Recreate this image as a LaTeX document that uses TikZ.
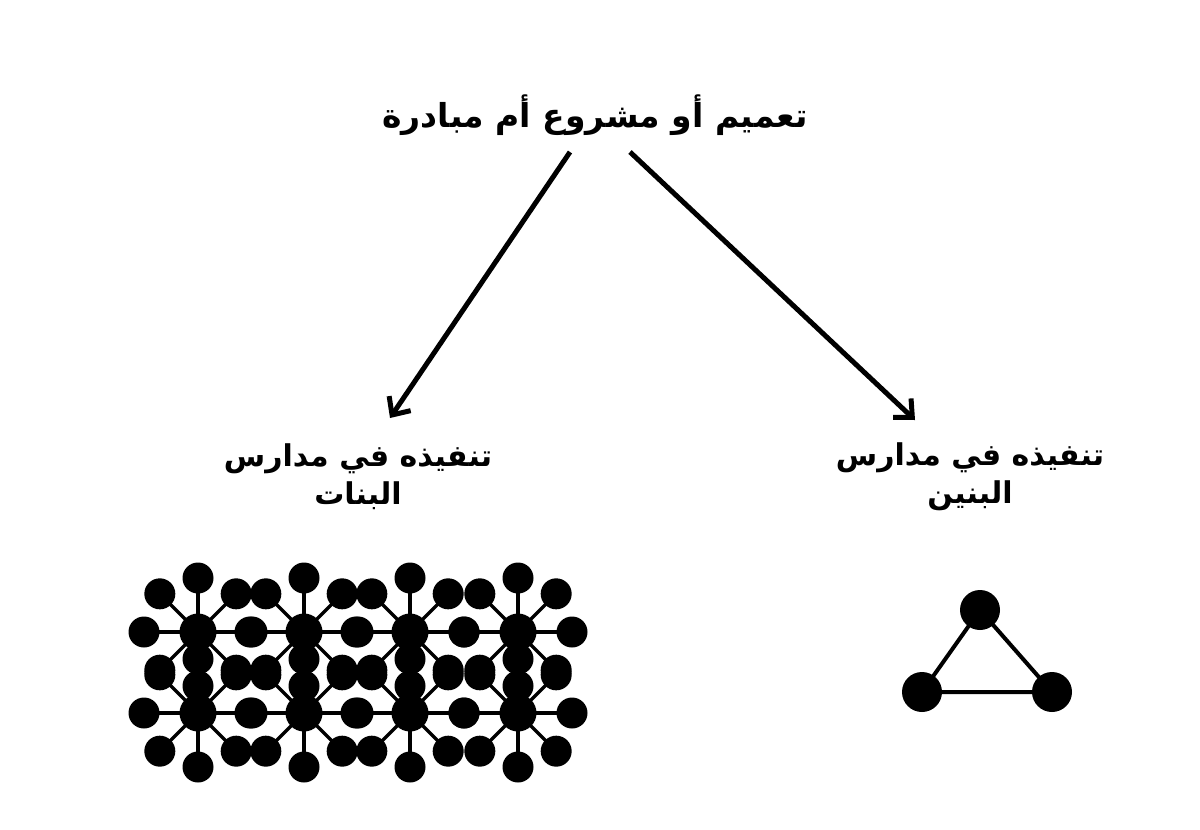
\documentclass[tikz,border=0pt]{standalone}
\usepackage{fontspec}
\usetikzlibrary{arrows.meta,calc}
\TeXXeTstate=1
\newfontfamily\arabicfont[Script=Arabic]{DejaVu Sans}
\begin{document}
\begin{tikzpicture}[x=1pt,y=-1pt,
  lbl/.style={font=\arabicfont\bfseries\fontsize{30}{38}\selectfont,align=center},
  arr/.style={line width=5pt,-{Straight Barb[length=14pt,width=26pt,line width=5pt]}},
  hub/.style={circle,fill=black,minimum size=37pt,inner sep=0pt},
  dot/.style={circle,fill=black,minimum size=31pt,inner sep=0pt},
  spoke/.style={line width=3.5pt},
  tri/.style={line width=4pt}]
\useasboundingbox (0,0) rectangle (1200,830);
\node[lbl,font=\arabicfont\bfseries\fontsize{33}{40}\selectfont] (title) at (595,115) {\beginR تعميم أو مشروع أم مبادرة\endR};
\node[lbl] (girls) at (358,477) {\beginR تنفيذه في مدارس\endR\\\beginR البنات\endR};
\node[lbl] (boys) at (970,477) {\beginR تنفيذه في مدارس\endR\\\beginR البنين\endR};
\coordinate (a1) at (570,152); \coordinate (a2) at (390,418);
\coordinate (b1) at (630,152); \coordinate (b2) at (915,420);
\draw[arr] (a1) -- (a2);
\draw[arr] (b1) -- (b2);
\foreach \x [count=\i] in {198,304,410,518}{
  \foreach \y [count=\j] in {632,713}{
    \node[hub] (h\i\j) at (\x,\y) {};
    \foreach \a [count=\k] in {0,45,...,315}{
      \node[dot] (d\i\j\k) at ($(h\i\j)+(\a:54)$) {};
      \draw[spoke] (h\i\j.center) -- (d\i\j\k.center);
    }
  }
}
\node[dot,minimum size=40pt] (t1) at (980,610) {};
\node[dot,minimum size=40pt] (t2) at (922,692) {};
\node[dot,minimum size=40pt] (t3) at (1052,692) {};
\draw[tri] (t1.center) -- (t2.center) -- (t3.center) -- cycle;
\end{tikzpicture}
\end{document}
